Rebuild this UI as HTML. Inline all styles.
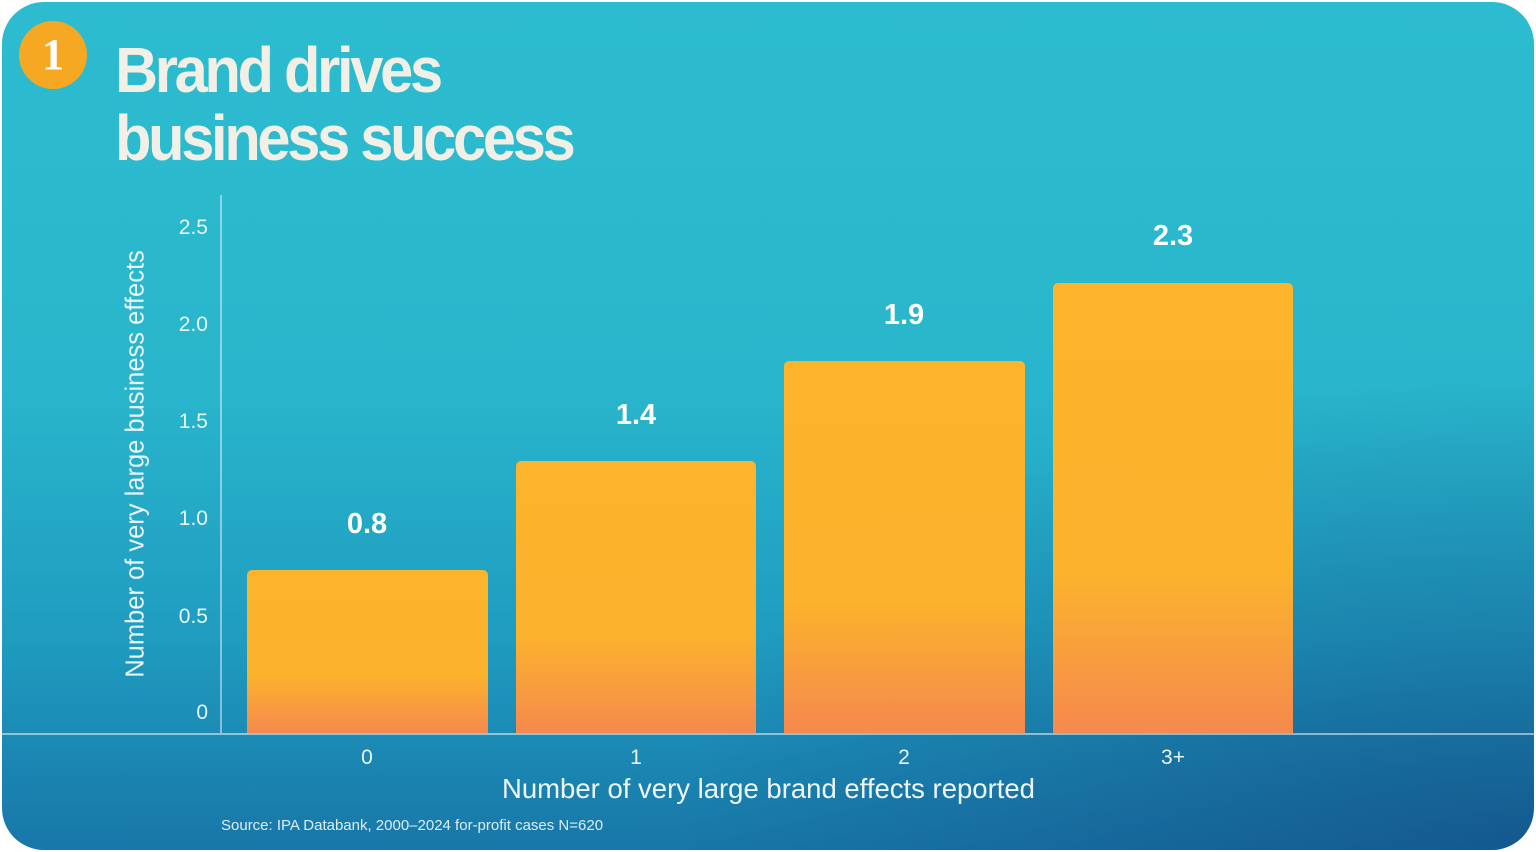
<!DOCTYPE html>
<html><head><style>
body{margin:0;width:1536px;height:852px;background:#fff;overflow:hidden;font-family:"Liberation Sans",sans-serif;}
.card{position:absolute;left:2px;top:2px;width:1532px;height:848px;border-radius:42px;overflow:hidden;
background:linear-gradient(180deg,#2dbccf 0%,#29b6cc 45%,#1f9cc0 75%,#1877a8 100%);}
.shade{position:absolute;inset:0;background:radial-gradient(ellipse at 100% 100%,rgba(15,50,110,0.45) 0%,rgba(15,50,110,0) 40%);}
.t{position:absolute;color:#f1efe6;}
.bar{position:absolute;border-radius:5px 5px 0 0;background:linear-gradient(180deg,#fbb42c 0%,#fbb22d 65%,#f5894e 100%);}
.v{position:absolute;color:#fff;font-weight:bold;font-size:29px;width:240px;text-align:center;}
.yl{position:absolute;right:1326px;color:#e8f4f7;font-size:21px;}
.xl{position:absolute;color:#e8f4f7;font-size:21px;width:240px;text-align:center;top:744px;}
</style></head><body>
<div class="card"><div class="shade"></div>
<div style="position:absolute;left:17px;top:19px;width:68px;height:68px;border-radius:50%;background:#f7a823;color:#fff;font:bold 44px 'Liberation Serif',serif;text-align:center;line-height:68px;">1</div>
<div class="t" style="left:113px;top:34px;font-size:64px;font-weight:bold;letter-spacing:-3.5px;line-height:68px;transform:scaleX(0.93);transform-origin:left top;">Brand drives<br>business success</div>
<div style="position:absolute;left:218px;top:193px;width:2px;height:538px;background:rgba(255,255,255,0.45)"></div>
<div style="position:absolute;left:0;top:731px;width:1532px;height:2px;background:rgba(255,255,255,0.5)"></div>
<div class="yl" style="top:214px">2.5</div>
<div class="yl" style="top:311px">2.0</div>
<div class="yl" style="top:408px">1.5</div>
<div class="yl" style="top:505px">1.0</div>
<div class="yl" style="top:603px">0.5</div>
<div class="yl" style="top:699px">0</div>
<div class="t" style="left:134px;top:462px;transform:translate(-50%,-50%) rotate(-90deg);font-size:25.5px;white-space:nowrap;color:#e8f4f7">Number of very large business effects</div>
<div class="bar" style="left:245px;top:568px;width:241px;height:163px"></div>
<div class="bar" style="left:514px;top:459px;width:240px;height:272px"></div>
<div class="bar" style="left:782px;top:359px;width:241px;height:372px"></div>
<div class="bar" style="left:1051px;top:281px;width:240px;height:450px"></div>
<div class="v" style="left:245px;top:506px">0.8</div>
<div class="v" style="left:514px;top:397px">1.4</div>
<div class="v" style="left:782px;top:297px">1.9</div>
<div class="v" style="left:1051px;top:218px">2.3</div>
<div class="xl" style="left:245px">0</div>
<div class="xl" style="left:514px">1</div>
<div class="xl" style="left:782px">2</div>
<div class="xl" style="left:1051px">3+</div>
<div class="t" style="left:500px;top:771px;font-size:27.5px;color:#eef6f8">Number of very large brand effects reported</div>
<div class="t" style="left:219px;top:815px;font-size:15px;color:#dbeef3">Source: IPA Databank, 2000–2024 for-profit cases N=620</div>
</div>
</body></html>
